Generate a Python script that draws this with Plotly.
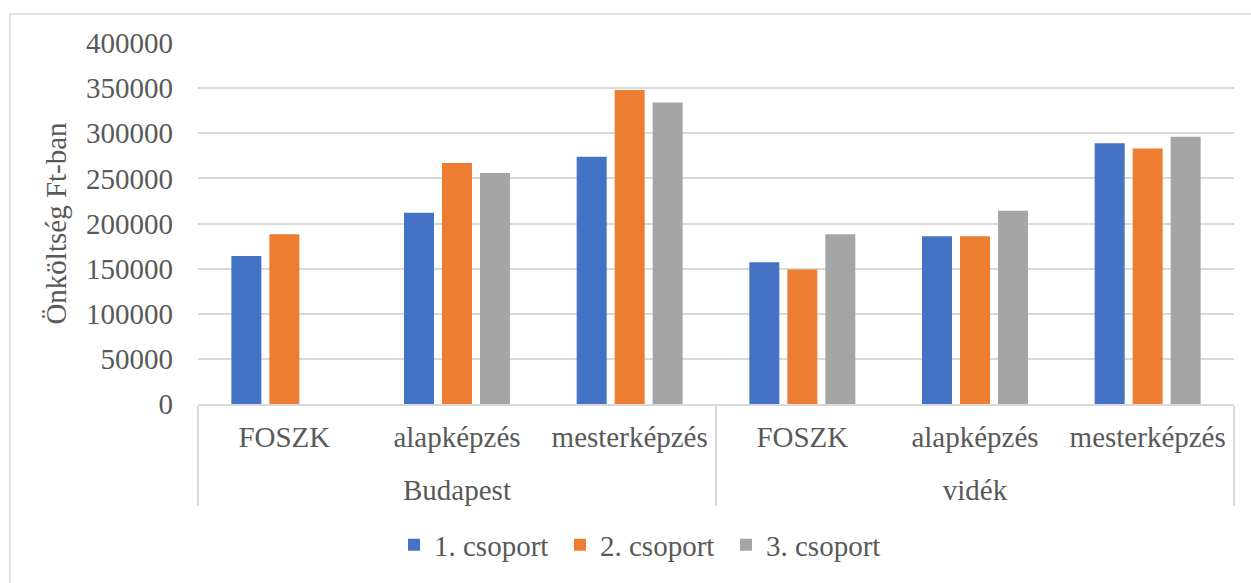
import plotly.graph_objects as go

regions = ["Budapest", "Budapest", "Budapest", "vidék", "vidék", "vidék"]
levels = ["FOSZK", "alapképzés", "mesterképzés", "FOSZK", "alapképzés", "mesterképzés"]
series_names = ["1. csoport", "2. csoport", "3. csoport"]
group1 = [164000, 212000, 274000, 157000, 186000, 289000]
group2 = [188000, 267000, 348000, 149000, 186000, 283000]
group3 = [None, 256000, 334000, 188000, 214000, 296000]
colors = ["#4472C4", "#ED7D31", "#A5A5A5"]

FONT = "Liberation Serif"
TXT = "#595959"
GRID = "#D9D9D9"

# inner labels get a tall thin spacer on each side so the outer level sits lower
SP = "<span style='font-size:52px'>\u2009</span>"
level_labels = [f"{SP}{lv}{SP}" for lv in levels]

fig = go.Figure()
for name, vals, col in zip(series_names, [group1, group2, group3], colors):
    fig.add_trace(go.Bar(x=[regions, level_labels], y=vals, name=name,
                         marker=dict(color=col, line=dict(width=0))))

W, H = 1251, 583
L, R, T, B = 198, 17, 43, 179
pw = W - L - R
ph = H - T - B

fig.update_layout(
    width=W, height=H,
    margin=dict(l=L, r=R, t=T, b=B, pad=0, autoexpand=False),
    paper_bgcolor="white", plot_bgcolor="white",
    font=dict(family=FONT, size=29, color=TXT),
    barmode="group", bargap=0.34, bargroupgap=0.21,
    showlegend=True,
    legend=dict(orientation="h", x=(643 - L) / pw, xanchor="center",
                y=(404 - 545) / ph, yanchor="middle",
                entrywidth=121, entrywidthmode="pixels",
                font=dict(family=FONT, size=29, color=TXT),
                bgcolor="rgba(0,0,0,0)"),
    xaxis=dict(type="multicategory", showline=True, linecolor=GRID, linewidth=1.5,
               showgrid=False, ticks="", showdividers=True, dividercolor=GRID,
               dividerwidth=1.5, automargin=False, ticklabelstandoff=6,
               tickangle=0,
               tickfont=dict(family=FONT, size=29, color=TXT)),
    yaxis=dict(range=[0, 400000], dtick=50000, tickformat="d", showgrid=True,
               gridcolor=GRID, gridwidth=1.5, zeroline=False, showline=False,
               ticks="", ticklabelstandoff=24, automargin=False,
               tickfont=dict(family=FONT, size=29, color=TXT),
               title=dict(text="Önköltség Ft-ban", standoff=10,
                          font=dict(family=FONT, size=29, color=TXT))),
    shapes=[dict(type="rect", xref="paper", yref="paper",
                 x0=(10 - L) / pw, x1=1.2, y0=-0.7, y1=(404 - 14) / ph,
                 line=dict(color=GRID, width=1.5), fillcolor="rgba(0,0,0,0)",
                 layer="below")],
)

fig.write_html("out.html", config={"displayModeBar": False},
               post_script="document.body.style.margin='0';")
